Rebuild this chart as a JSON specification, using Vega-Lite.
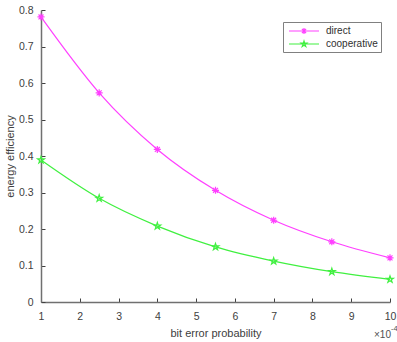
{
  "$schema": "https://vega.github.io/schema/vega-lite/v6.json",
  "width": 349,
  "height": 292,
  "autosize": "none",
  "padding": {"left": 41, "top": 10, "right": 7, "bottom": 40},
  "background": "white",
  "config": {
    "view": {"stroke": null},
    "font": "Liberation Sans",
    "axis": {"labelFont": "Liberation Sans", "titleFont": "Liberation Sans", "labelColor": "#404040", "titleColor": "#404040", "titleFontWeight": "normal", "domainColor": "#707070", "tickColor": "#404040", "grid": false, "labelFontSize": 10.5, "titleFontSize": 11}
  },
  "data": {"values": [
    {"p": 1, "eff": 0.781, "series": "direct"},
    {"p": 2.5, "eff": 0.573, "series": "direct"},
    {"p": 4, "eff": 0.418, "series": "direct"},
    {"p": 5.5, "eff": 0.306, "series": "direct"},
    {"p": 7, "eff": 0.224, "series": "direct"},
    {"p": 8.5, "eff": 0.165, "series": "direct"},
    {"p": 10, "eff": 0.121, "series": "direct"},
    {"p": 1, "eff": 0.389, "series": "cooperative"},
    {"p": 2.5, "eff": 0.284, "series": "cooperative"},
    {"p": 4, "eff": 0.208, "series": "cooperative"},
    {"p": 5.5, "eff": 0.151, "series": "cooperative"},
    {"p": 7, "eff": 0.112, "series": "cooperative"},
    {"p": 8.5, "eff": 0.083, "series": "cooperative"},
    {"p": 10, "eff": 0.062, "series": "cooperative"}
  ]},
  "encoding": {
    "x": {"field": "p", "type": "quantitative", "scale": {"domain": [1, 10], "nice": false, "zero": false},
      "axis": {"title": "bit error probability", "values": [1,2,3,4,5,6,7,8,9,10], "tickSize": -4, "labelPadding": 13, "titlePadding": 6, "domainWidth": 1.5, "labelOverlap": false, "labelFlush": false, "labelBound": false}},
    "y": {"field": "eff", "type": "quantitative", "scale": {"domain": [0, 0.8], "nice": false},
      "axis": {"title": "energy efficiency", "values": [0,0.1,0.2,0.3,0.4,0.5,0.6,0.7,0.8], "format": ".1~f", "tickSize": -4, "labelPadding": 12, "titlePadding": 3, "domainWidth": 1.5, "labelOverlap": false, "labelFlush": false, "labelBound": false}}
  },
  "layer": [
    {
      "mark": {"type": "line", "strokeWidth": 1.2, "interpolate": "monotone"},
      "encoding": {
        "color": {"field": "series", "type": "nominal",
          "scale": {"domain": ["direct", "cooperative"], "range": ["#ff40ff", "#40f040"]},
          "legend": {
            "title": null, "orient": "none", "legendX": 242, "legendY": 12,
            "symbolSize": 100, "symbolOffset": 12, "labelOffset": 16, "symbolStrokeWidth": 1.2,
            "labelFont": "Liberation Sans", "labelFontSize": 10, "labelColor": "#303030",
            "strokeColor": "#808080", "padding": 3, "rowPadding": 1, "fillColor": "white",
            "encode": {"symbols": {"update": {"shape": {"signal": "datum.value === 'direct' ? 'M-3,0L3,0M-0.6,0L0.6,0M0,-0.6L0,0.6M-0.42,-0.42L0.42,0.42M-0.42,0.42L0.42,-0.42' : 'M-3,0L3,0M0,-0.6L0.134,-0.184L0.571,-0.185L0.217,0.07L0.353,0.485L0,0.228L-0.353,0.485L-0.217,0.07L-0.571,-0.185L-0.134,-0.184Z'"}}}}
          }}
      }
    },
    {
      "transform": [{"filter": "datum.series === 'direct'"}],
      "mark": {"type": "point", "filled": false, "strokeWidth": 1.2, "opacity": 1, "size": 50, "shape": "M-1,0L1,0M0,-1L0,1M-0.7,-0.7L0.7,0.7M-0.7,0.7L0.7,-0.7"},
      "encoding": {
        "color": {"field": "series", "type": "nominal", "legend": null}
      }
    },
    {
      "transform": [{"filter": "datum.series === 'cooperative'"}],
      "mark": {"type": "point", "filled": false, "strokeWidth": 1.2, "opacity": 1, "size": 50, "shape": "M0,-1L0.2233,-0.3074L0.9511,-0.309L0.3614,0.1174L0.5878,0.809L0,0.38L-0.5878,0.809L-0.3614,0.1174L-0.9511,-0.309L-0.2233,-0.3074Z"},
      "encoding": {
        "color": {"field": "series", "type": "nominal", "legend": null}
      }
    },
    {
      "data": {"values": [{"p": 10, "eff": 0, "label": "×10"}]},
      "mark": {"type": "text", "align": "right", "baseline": "middle", "dx": 1, "dy": 33, "fontSize": 10, "fontWeight": "normal", "color": "#505050", "font": "Liberation Sans"},
      "encoding": {"text": {"field": "label"}}
    },
    {
      "data": {"values": [{"p": 10, "eff": 0, "label": "-4"}]},
      "mark": {"type": "text", "align": "left", "baseline": "middle", "dx": 1, "dy": 27, "fontSize": 7.5, "fontWeight": "normal", "color": "#505050", "font": "Liberation Sans"},
      "encoding": {"text": {"field": "label"}}
    }
  ]
}
